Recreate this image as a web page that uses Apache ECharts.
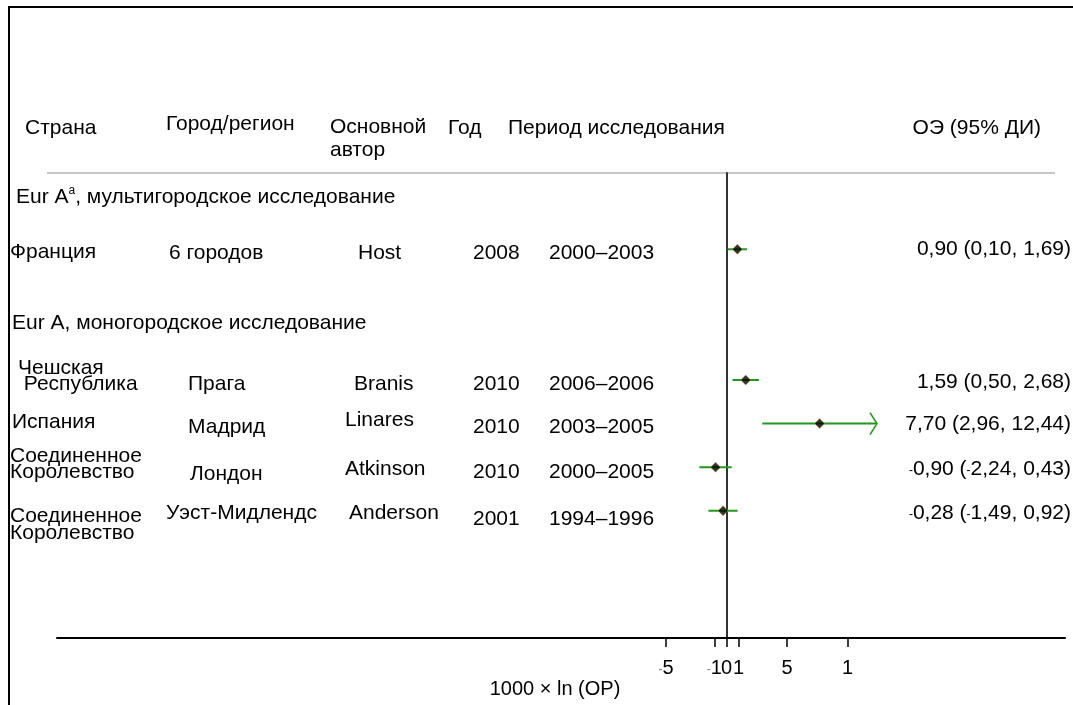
<!DOCTYPE html>
<html>
<head>
<meta charset="utf-8">
<script src="https://cdn.jsdelivr.net/npm/echarts@6/dist/echarts.min.js"></script>
<style>
  html, body { margin: 0; padding: 0; background: #fff; }
  #chart { width: 1073px; height: 705px; }
</style>
</head>
<body>
<div id="chart"></div>
<script>
// ---- Study table ----
const countries = ['Франция', 'Чешская\n Республика', 'Испания', 'Соединенное\nКоролевство', 'Соединенное\nКоролевство'];
const cities    = ['6 городов', 'Прага', 'Мадрид', 'Лондон', 'Уэст-Мидлендс'];
const authors   = ['Host', 'Branis', 'Linares', 'Atkinson', 'Anderson'];
const years     = ['2008', '2010', '2010', '2010', '2001'];
const periods   = ['2000–2003', '2006–2006', '2003–2005', '2000–2005', '1994–1996'];

// Effect estimates (1000 × ln OR) with 95% CI
const estimates = [0.90, 1.59, 7.70, -0.90, -0.28];
const ciLow     = [0.10, 0.50, 2.96, -2.24, -1.49];
const ciHigh    = [1.69, 2.68, 12.44, 0.43, 0.92];

// Table line of each study (lines 1-2 hold the second group heading)
const studyLine = [0, 3, 4, 5, 6];

// Axis ticks
const tickValues = [-5, -1, 0, 1, 5, 10];
const tickLabels = ['-5', '-1', '0', '1', '5', '1'];

const headers = ['Страна', 'Город/регион', 'Основной\nавтор', 'Год', 'Период исследования', 'ОЭ (95% ДИ)'];
const groupTitles = ['Eur A{sup|a}, мультигородское исследование', 'Eur A, моногородское исследование'];
const axisTitle = '1000 × ln (ОР)';

// ---- Layout ----
const FONT_FAMILY = '"Liberation Sans", Arial, Helvetica, sans-serif';
const FS = 21;
const GREEN = '#1f9a1f';
const xMin = -55.33, xMax = 27.98;
const arrowLimit = 10;   // CI beyond the last tick is drawn with an arrow head

const col = {
  countryX: [10, 18, 12, 10, 10],
  countryDy: [3, -4, -1, -3, 14],
  cityX: [169, 188, 188, 190, 166],
  cityDy: [4, 4, 4, 7, 2],
  authorX: [358, 354, 345, 345, 349],
  authorDy: [4, 4, -3, 2, 2],
  yearX: 473,
  periodX: 549,
  yearDy: [4, 4, 4, 5, 8],
  valueRight: 1071,
  valueDy: [0, 2, 1, 2, 2]
};

const fmt = v => v.toFixed(2).replace('.', ',');
const minusRich = s => s.replace(/-/g, '{m|-}');
const richMinus = { m: { fontSize: 12, fontFamily: FONT_FAMILY, color: '#777', padding: [4, 0, 0, 0] } };

const chart = echarts.init(document.getElementById('chart'));

chart.setOption({
  animation: false,
  backgroundColor: '#fff',
  grid: { left: 57, right: 8, top: 173, bottom: 67, outerBoundsMode: 'none', containLabel: false },
  xAxis: {
    type: 'value',
    min: xMin,
    max: xMax,
    position: 'bottom',
    axisLine: { onZero: false, lineStyle: { color: '#000', width: 2 } },
    axisTick: { show: true, customValues: tickValues, length: 9, lineStyle: { color: '#000', width: 1.5 } },
    axisLabel: {
      customValues: tickValues,
      margin: 20,
      fontSize: 20,
      fontFamily: FONT_FAMILY,
      color: '#000',
      hideOverlap: false,
      formatter: v => minusRich(tickLabels[tickValues.indexOf(v)] ?? ''),
      rich: { m: { fontSize: 12, fontFamily: FONT_FAMILY, color: '#777', padding: [4, 0, 0, 0] } }
    },
    splitLine: { show: false },
    name: axisTitle,
    nameLocation: 'middle',
    nameGap: 41,
    nameMoveOverlap: false,
    nameTextStyle: { fontSize: 20, fontFamily: FONT_FAMILY, color: '#000', padding: [0, 12, 0, 0] }
  },
  yAxis: {
    type: 'value',
    inverse: true,
    min: -1.75,
    max: 8.92,
    axisLine: { show: true, onZero: true, lineStyle: { color: '#333', width: 2 } },
    axisTick: { show: false },
    axisLabel: { show: false },
    splitLine: { show: false }
  },
  series: [
    {
      type: 'custom',
      name: 'ci',
      data: studyLine.map((l, i) => [l, ciLow[i], ciHigh[i]]),
      encode: { x: [1, 2], y: 0 },
      renderItem: (params, api) => {
        const a = api.coord([api.value(1), api.value(0)]);
        const b = api.coord([api.value(2), api.value(0)]);
        const children = [{
          type: 'line',
          shape: { x1: a[0], y1: a[1], x2: b[0], y2: b[1] },
          style: { stroke: GREEN, lineWidth: 2 }
        }];
        if (api.value(2) > arrowLimit) {
          children.push({
            type: 'polyline',
            shape: { points: [[b[0] - 7, b[1] - 11], [b[0], b[1]], [b[0] - 7, b[1] + 11]] },
            style: { stroke: GREEN, lineWidth: 1.6, fill: null }
          });
        }
        return { type: 'group', children };
      },
      z: 3
    },
    {
      type: 'scatter',
      name: 'estimate',
      data: studyLine.map((l, i) => [estimates[i], l]),
      symbol: 'diamond',
      symbolSize: 10,
      itemStyle: { color: '#000', borderColor: '#d9a520', borderWidth: 0.6 },
      z: 4
    }
  ]
});

// ---- Table text, aligned to the study rows ----
const rowY = studyLine.map(l => chart.convertToPixel({ yAxisIndex: 0 }, l));
const txt = (x, y, text, opts = {}) => ({
  type: 'text',
  x, y,
  silent: true,
  style: Object.assign({
    text,
    fontSize: FS,
    fontFamily: FONT_FAMILY,
    fill: '#000',
    align: 'left',
    verticalAlign: 'middle'
  }, opts)
});

const g = [];
// frame
g.push({ type: 'line', shape: { x1: 8, y1: 7, x2: 1073, y2: 7 }, style: { stroke: '#000', lineWidth: 2 } });
g.push({ type: 'line', shape: { x1: 9, y1: 6, x2: 9, y2: 705 }, style: { stroke: '#000', lineWidth: 2 } });
// header row
g.push(txt(25, 128, headers[0]));
g.push(txt(166, 124, headers[1]));
g.push(txt(330, 139, headers[2], { lineHeight: 23 }));
g.push(txt(448, 128, headers[3]));
g.push(txt(508, 128, headers[4]));
g.push(txt(1041, 128, headers[5], { align: 'right' }));
g.push({ type: 'line', shape: { x1: 47, y1: 173, x2: 1055, y2: 173 }, style: { stroke: '#c8c8c8', lineWidth: 2 } });
// group headings
g.push(txt(16, 197, groupTitles[0], { rich: { sup: { fontSize: 12, fontFamily: FONT_FAMILY, padding: [0, 0, 12, 0] } } }));
g.push(txt(12, 323, groupTitles[1]));
// study rows
studyLine.forEach((l, i) => {
  const y = rowY[i];
  g.push(txt(col.countryX[i], y + col.countryDy[i], countries[i], { lineHeight: 16.5 }));
  g.push(txt(col.cityX[i], y + col.cityDy[i], cities[i]));
  g.push(txt(col.authorX[i], y + col.authorDy[i], authors[i]));
  g.push(txt(col.yearX, y + col.yearDy[i], years[i]));
  g.push(txt(col.periodX, y + col.yearDy[i], periods[i]));
  const label = `${fmt(estimates[i])} (${fmt(ciLow[i])}, ${fmt(ciHigh[i])})`;
  g.push(txt(col.valueRight, y + col.valueDy[i], minusRich(label), { align: 'right', rich: richMinus }));
});

chart.setOption({ graphic: g });
</script>
</body>
</html>
